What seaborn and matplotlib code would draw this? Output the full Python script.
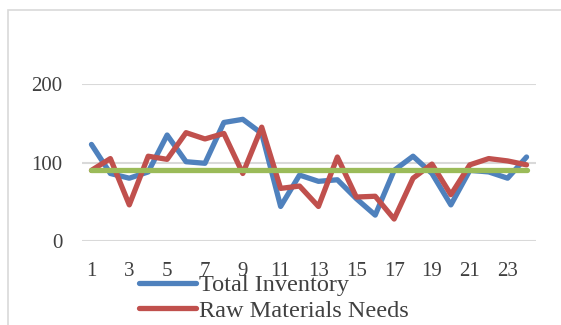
import matplotlib
matplotlib.use("Agg")
import matplotlib.pyplot as plt
from matplotlib.patches import Rectangle
import seaborn as sns
import pandas as pd

periods = list(range(1, 25))
total_inventory = [123, 86, 80, 88, 135, 101, 99, 151, 155, 137, 44, 84,
                   76, 78, 54, 33, 90, 108, 86, 46, 90, 88, 80, 107]
raw_materials_needs = [90, 105, 46, 108, 104, 138, 130, 137, 86, 145, 67, 70,
                       44, 107, 56, 57, 28, 80, 98, 59, 97, 105, 102, 97]
baseline = [90] * 24
xtick_labels = [str(v) for v in range(1, 24, 2)]
ytick_values = [0, 100, 200]

sns.set_theme(style="white")
plt.rcParams['font.family'] = ['Liberation Serif', 'DejaVu Serif']

W, H = 561, 325
fig = plt.figure(figsize=(W / 100, H / 100), dpi=100)
ax = fig.add_axes([82 / W, (H - 241) / H, (536 - 82) / W, (241 - 84) / H])

# outer chart frame
fig.patches.append(Rectangle((8 / W, -0.2), 1.2, (H - 10) / H + 0.2,
                             transform=fig.transFigure, fill=False,
                             edgecolor="#d9d9d9", linewidth=1.2))

df = pd.DataFrame({"period": periods, "Total Inventory": total_inventory,
                   "Raw Materials Needs": raw_materials_needs, "Baseline": baseline})

lw = 3.8
sns.lineplot(data=df, x="period", y="Total Inventory", ax=ax, color="#4f81bd",
             linewidth=lw, label="Total Inventory", legend=False)
sns.lineplot(data=df, x="period", y="Raw Materials Needs", ax=ax, color="#c0504d",
             linewidth=lw, label="Raw Materials Needs", legend=False)
sns.lineplot(data=df, x="period", y="Baseline", ax=ax, color="#9bbb59",
             linewidth=lw, legend=False)
for l in ax.lines:
    l.set_solid_capstyle("round")

ax.set_xlim(0.5, 24.5)
ax.set_ylim(0, 200)
ax.set_yticks(ytick_values)
ax.set_xticks(range(1, 24, 2))
ax.set_xticklabels(xtick_labels)
ax.set_xlabel("")
ax.set_ylabel("")
ax.grid(axis="y", color="#d9d9d9", linewidth=1.5)
ax.set_axisbelow(True)
for s in ax.spines.values():
    s.set_visible(False)
ax.tick_params(axis="both", length=0, labelsize=15, colors="#404040")
ax.tick_params(axis="y", pad=14)
ax.tick_params(axis="x", pad=15)

handles = ax.lines[:2]
fig.legend(handles, ["Total Inventory", "Raw Materials Needs"], loc="upper left",
           bbox_to_anchor=(139 / W, (H - 274) / H), frameon=False, fontsize=17.5,
           handlelength=2.35, handletextpad=0.1, labelspacing=0.15, borderpad=0,
           borderaxespad=0, labelcolor="#404040")

fig.savefig("out.png", dpi=100)
